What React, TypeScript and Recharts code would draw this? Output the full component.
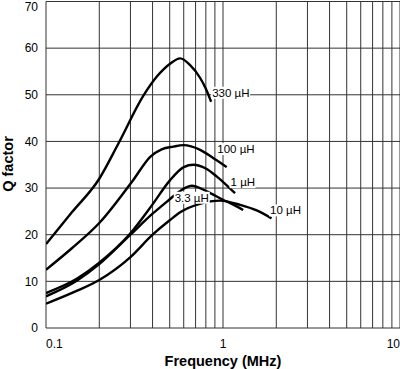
import React from "react";
import {
  LineChart,
  Line,
  XAxis,
  YAxis,
  CartesianGrid,
  LabelList,
} from "recharts";

// frequency (MHz) / Q factor
const freq330 = [0.1, 0.14, 0.2, 0.257, 0.355, 0.423, 0.5, 0.573, 0.65, 0.743, 0.8, 0.857];
const q330 = [18, 24.8, 32, 39.6, 49.8, 53.9, 56.6, 57.8, 56.4, 53.6, 51.3, 48.5];

const freq100 = [0.1, 0.14, 0.2, 0.312, 0.388, 0.45, 0.525, 0.598, 0.743, 0.883, 1.05];
const q100 = [12.5, 17.1, 22.5, 31.8, 36.7, 38.3, 38.9, 39.2, 38.2, 36.4, 34.5];

const freq1 = [0.1, 0.15, 0.2, 0.3, 0.4, 0.5, 0.6, 0.68, 0.8, 0.92, 1.05, 1.17];
const q1 = [7.5, 10.6, 14, 20.3, 26.5, 31.6, 34.5, 35, 34.2, 32.5, 30.6, 28.9];

const freq33 = [0.1, 0.15, 0.2, 0.3, 0.4, 0.5, 0.55, 0.666, 0.81, 1.0, 1.15, 1.3];
const q33 = [6.8, 10.2, 13.7, 20, 24.5, 27.6, 28.9, 30.5, 29.3, 27.5, 26.4, 25.3];

const freq10 = [0.1, 0.15, 0.2, 0.3, 0.4, 0.5, 0.573, 0.74, 0.96, 1.25, 1.55, 1.88];
const q10 = [5.2, 8.0, 10.3, 15.2, 20, 23.1, 24.8, 26.6, 27.3, 26.4, 25.2, 23.5];

const curveNames = ["330 µH", "100 µH", "1 µH", "3.3 µH", "10 µH"];

const xTicks = [0.1, 0.2, 0.3, 0.4, 0.5, 0.6, 0.7, 0.8, 0.9, 1, 2, 3, 4, 5, 6, 7, 8, 9, 10];
const xTickLabels = [0.1, 1, 10];
const yTicks = [0, 10, 20, 30, 40, 50, 60, 70];

const toPoints = (fs: number[], qs: number[]) => fs.map((f, i) => ({ f, q: qs[i] }));

const series = [
  { name: curveNames[0], data: toPoints(freq330, q330), at: freq330.length - 1, dx: 1, dy: -9, anchor: "start", w: 37 },
  { name: curveNames[1], data: toPoints(freq100, q100), at: freq100.length - 1, dx: -9.5, dy: -18, anchor: "start", w: 37 },
  { name: curveNames[2], data: toPoints(freq1, q1), at: freq1.length - 1, dx: -4.5, dy: -11, anchor: "start", w: 24 },
  { name: curveNames[3], data: toPoints(freq33, q33), at: 7, dx: 0, dy: 12, anchor: "middle", w: 34 },
  { name: curveNames[4], data: toPoints(freq10, q10), at: freq10.length - 1, dx: -1.5, dy: -8, anchor: "start", w: 30 },
];

const makeCurveLabel = (s: any) => (props: any) => {
  const { x, y, index } = props;
  if (index !== s.at) return null;
  const cx = x + s.dx;
  const cy = y + s.dy;
  const left = s.anchor === "middle" ? cx - s.w / 2 : cx;
  return (
    <g>
      <rect x={left - 1} y={cy - 6} width={s.w + 2} height={12} fill="#fff" />
      <text x={cx} y={cy + 4} textAnchor={s.anchor} fontSize={11.5} fill="#000">
        {s.name}
      </text>
    </g>
  );
};

const XTick = (props: any) => {
  const { x, y, payload } = props;
  const v = payload.value;
  if (!xTickLabels.includes(v)) return <g />;
  const anchor = v === 0.1 ? "start" : v === 10 ? "end" : "middle";
  return (
    <text x={x} y={y + 11.5} textAnchor={anchor} fontSize={12} fill="#000">
      {v}
    </text>
  );
};

const YTick = (props: any) => {
  const { x, y, payload } = props;
  const v = payload.value;
  // the top label is pushed down so it stays inside the picture
  const cy = v === yTicks[yTicks.length - 1] ? y + 5.5 : y;
  return (
    <text x={x} y={cy + 4.3} textAnchor="end" fontSize={12} fill="#000">
      {v}
    </text>
  );
};

const YLabel = () => (
  <text
    x={13}
    y={164}
    transform="rotate(-90, 13, 164)"
    textAnchor="middle"
    fontSize={14.5}
    fontWeight="bold"
    fill="#000"
  >
    Q factor
  </text>
);

export default function App() {
  return (
    <div style={{ position: "absolute", left: 0, top: 0, background: "#fff" }}>
      <LineChart
        width={400}
        height={369}
        margin={{ top: 1.5, right: 0, bottom: 0, left: 0 }}
        style={{ fontFamily: "'Liberation Sans', Arial, sans-serif" }}
      >
        <CartesianGrid stroke="#333" strokeWidth={1} />
        <XAxis
          type="number"
          dataKey="f"
          scale="log"
          domain={[0.1, 10]}
          ticks={xTicks}
          allowDataOverflow
          interval={0}
          height={41}
          tickLine={false}
          axisLine={false}
          tick={<XTick />}
          label={{
            value: "Frequency (MHz)",
            position: "insideBottom",
            offset: 3,
            fontSize: 14.5,
            fontWeight: "bold",
            fill: "#000",
          }}
        />
        <YAxis
          type="number"
          domain={[0, 70]}
          ticks={yTicks}
          interval={0}
          width={46}
          tickLine={false}
          axisLine={false}
          tick={<YTick />}
          label={<YLabel />}
        />
        {series.map((s) => (
          <Line
            key={s.name}
            data={s.data}
            dataKey="q"
            type="monotone"
            stroke="#000"
            strokeWidth={2.4}
            dot={false}
            isAnimationActive={false}
          >
            <LabelList dataKey="q" content={makeCurveLabel(s)} />
          </Line>
        ))}
      </LineChart>
    </div>
  );
}
